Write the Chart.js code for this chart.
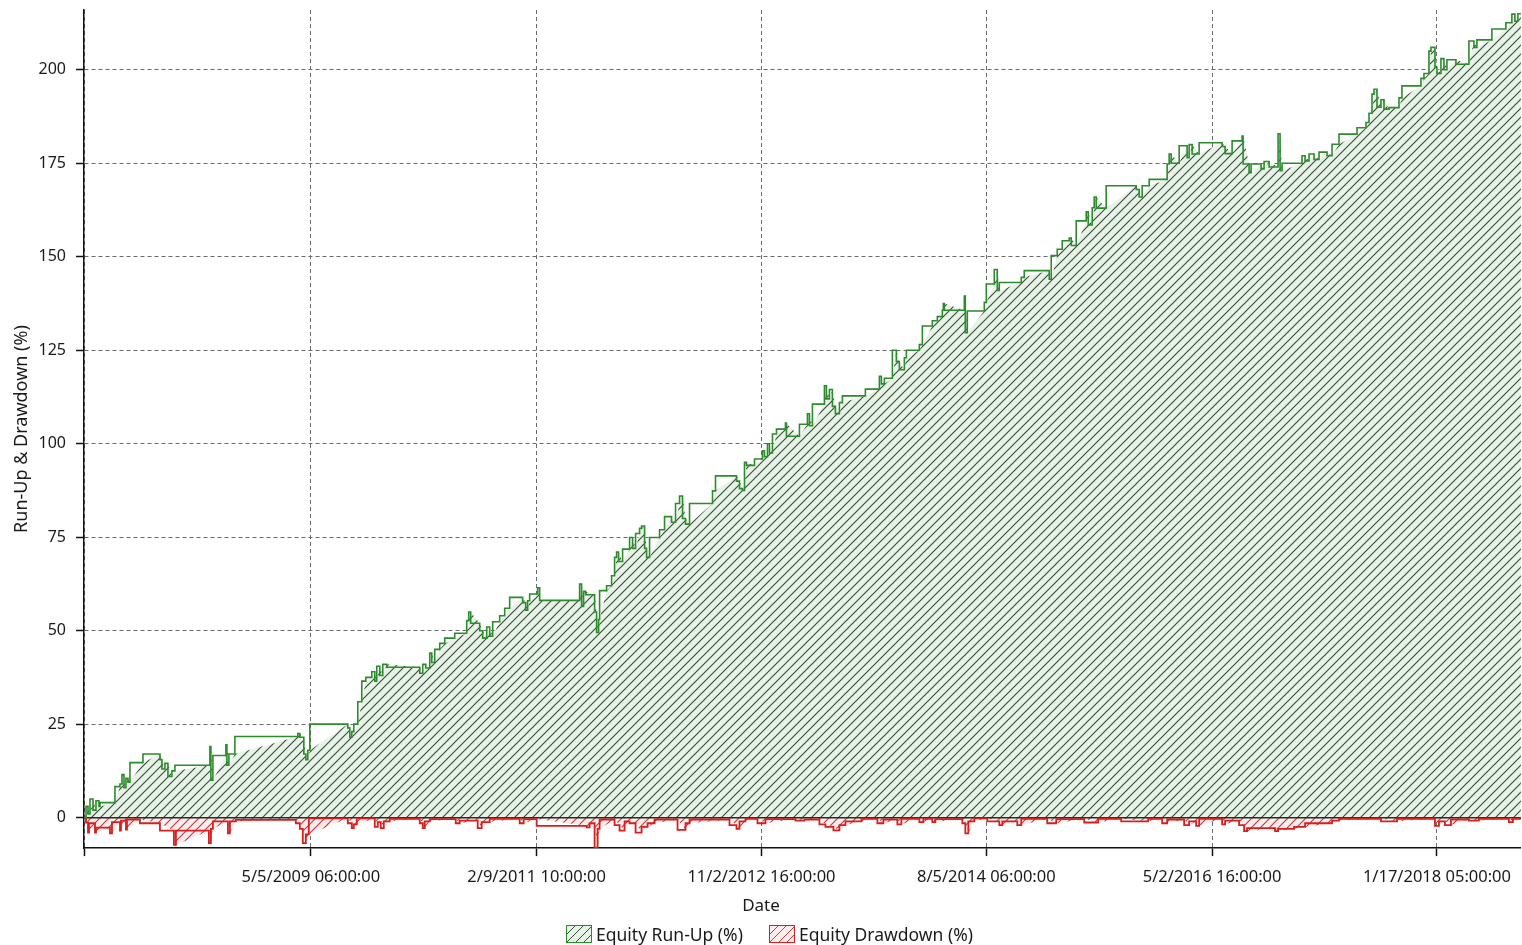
<!DOCTYPE html>
<html>
<head>
<meta charset="utf-8">
<script src="https://cdn.jsdelivr.net/npm/chart.js@4.4.1/dist/chart.umd.min.js"></script>
<style>
html, body { margin: 0; padding: 0; background: #fff; }
#wrap { position: relative; width: 1522px; height: 945px; }
#legend { position: absolute; left: 566px; top: 924px; display: flex; gap: 26px;
  font: 17.5px 'Noto Sans', 'DejaVu Sans', sans-serif; color: #1a1a1a; line-height: 20px; }
#legend .item { display: flex; align-items: center; white-space: nowrap; }
#legend .swatch { display: inline-block; width: 24px; height: 16px; margin-right: 4px; border: 1px solid; }
</style>
</head>
<body>
<div id="wrap">
  <canvas id="equityChart" width="1522" height="945"></canvas>
  <div id="legend"></div>
</div>
<script>
// x = bar number, one date label roughly every 450 bars
const runUpBar = [
  0,4,8,12,18,24,30,32,62,72,
  76,80,84,88,92,118,152,156,162,168,
  176,182,252,254,258,284,286,290,302,428,
  432,440,444,448,452,528,532,536,540,548,
  556,564,576,582,586,592,598,606,672,678,
  684,692,696,702,712,722,742,766,770,774,
  792,798,806,812,818,832,842,852,878,884,
  888,892,908,912,914,992,996,1000,1004,1022,1026,
  1030,1032,1046,1056,1062,1066,1070,1078,1092,1098,
  1104,1112,1116,1122,1126,1132,1152,1162,1176,1184,
  1192,1198,1204,1212,1258,1264,1306,1312,1318,1322,
  1326,1342,1358,1362,1368,1372,1378,1386,1404,1406,
  1432,1448,1452,1458,1482,1486,1492,1498,1504,1512,
  1518,1564,1592,1596,1602,1618,1626,1632,1642,1646,
  1672,1678,1698,1708,1718,1720,1722,1762,1764,1768,
  1802,1806,1822,1828,1832,1876,1882,1932,1936,1948,
  1958,1972,1976,1986,2006,2010,2018,2022,2026,2046,
  2106,2112,2118,2132,2168,2172,2176,2192,2208,2212,
  2218,2232,2278,2284,2298,2318,2320,2332,2336,2356,
  2362,2372,2390,2394,2398,2438,2444,2452,2462,2472,
  2488,2498,2512,2548,2566,2572,2578,2582,2588,2596,
  2602,2612,2632,2638,2676,2682,2692,2696,2704,2708,
  2716,2722,2728,2746,2772,2782,2788,2818,2846,2858,
  2864,2870,2876
];
const runUpPct = [
  0,0,3,1,5,2,4.5,3,4,8.3,
  9,11.5,8,10.5,9.5,14.7,17,15.5,13,14.5,
  11,12.5,14,19,10,16.6,19.5,14,17,21.7,
  22.5,21.5,17,15.5,18,25,24,21.5,23,25,
  31,36.5,37.5,39,36.5,40.5,38,41,40.2,38.6,
  41,40,44,41.5,45,46.6,48,49.3,52.7,55,
  52,50,48,51,48.5,52.4,54,56,58.9,57.5,
  55.5,58,59.8,61.5,58.1,58.1,62.5,56.5,60.5,59.6,55,
  49.5,53,60.7,62,64.7,69.6,71,68.5,71.8,74.9,
  72,76,77.4,78,72,69.6,74.9,77,80.5,79,
  84,86,80,78.5,84,87.4,91.4,90,88,87.5,
  95,94.2,95.9,98.1,96.5,100,97.5,102.6,103.9,105.5,
  102,105.2,108,104.8,110.6,115.5,112,114.5,110,108,
  111,112.8,114.6,118,116,117.5,125,122,119.8,123,
  125,126.5,131.5,132.9,134,135.7,137.5,135.7,139.5,129.7,
  135.5,137.8,142.7,146.6,141,143.1,144.5,146.3,144,150.3,
  152,154.3,155,153,159.6,162,158.5,163.1,166,163,
  169,168,166,169,170.7,174.8,177.5,175,179.7,176.5,
  180,177.5,180.5,179.5,177.6,181,182.3,174.8,172.5,174.8,
  173.5,175.5,174,182.9,173,175,177,175.6,177.5,176,
  178,177,180.1,182.8,184.5,185.9,188.4,193.5,194.8,190,
  192,189.5,189.9,192.5,195.7,197.7,199,205,206,200.7,
  199,203,200,202.7,201.5,207.7,206,208,210.9,212.6,
  214.9,213,215
];
const drawdownBar = [
  0,4,8,10,22,24,52,56,72,74,
  84,86,112,152,180,184,250,254,258,288,
  292,304,424,432,438,444,450,528,536,540,
  546,582,588,594,600,612,672,678,682,692,
  744,752,788,796,812,872,880,906,1006,1012,
  1022,1028,1032,1062,1072,1082,1092,1104,1116,1128,
  1142,1188,1204,1212,1292,1306,1312,1324,1348,1364,
  1424,1442,1472,1484,1500,1512,1524,1556,1588,1600,
  1628,1636,1672,1680,1698,1704,1758,1764,1770,1782,
  1808,1832,1838,1868,1876,1928,1946,2002,2030,2076,
  2130,2158,2168,2202,2212,2226,2232,2278,2284,2312,
  2322,2328,2384,2390,2422,2444,2498,2512,2596,2628,
  2704,2712,2724,2736,2772,2792,2852,2860,2876
];
const drawdownPct = [
  0,0,-1.3,-4,-1.5,-4,-2.7,-4.2,-1.2,-3.5,
  -0.8,-3.2,-0.5,-1.5,-3.5,-7.3,-3.5,-6.8,-3,-1,
  -4.2,-1,-0.6,-1.5,-3,-6.8,-4.5,-0.2,-1.5,-2.8,
  -1.8,-0.2,-2.5,-1.2,-2.8,-1,-0.3,-1.5,-2.8,-1,
  -0.4,-1.5,-0.8,-2.8,-1.2,-0.3,-1.5,-0.4,-2.2,-2.6,
  -1.5,-8,-3,-0.5,-2,-3.5,-1,-1.5,-4,-2.5,
  -1.5,-0.5,-3.3,-1.5,-0.5,-2,-3,-1,-0.3,-1.5,
  -0.4,-0.8,-0.5,-1.8,-2.5,-3.4,-2,-1,-0.3,-1.5,
  -0.5,-1.8,-0.3,-1.2,-0.3,-1.2,-0.4,-1.5,-4.2,-1,
  -0.2,-1,-2,-1,-2,-0.3,-1.5,-0.4,-1.3,-0.3,
  -1,-0.3,-1.5,-0.5,-2,-1,-2.2,-0.3,-1.8,-0.8,
  -2,-3.6,-2.8,-3.6,-3,-2.5,-1.5,-0.8,-0.3,-1,
  -0.3,-2.2,-1,-2,-0.5,-0.8,-0.3,-1.2,-0.3
];
const tickBars = [0, 454, 906, 1356, 1806, 2258, 2708];
const tickLabels = ['', '5/5/2009 06:00:00', '2/9/2011 10:00:00', '11/2/2012 16:00:00',
  '8/5/2014 06:00:00', '5/2/2016 16:00:00', '1/17/2018 05:00:00'];
const lastBar = 2876;

const fontFamily = "'Noto Sans', 'DejaVu Sans', sans-serif";
const textColor = '#1a1a1a';
const gridColor = '#6a6a6a';
const runUpColor = '#2a8c2a';
const drawdownColor = '#d81e1e';
const runUpHatch = { bg: '#e8f3e8', line: '#3e4e3e' };
const drawdownHatch = { bg: '#fbeded', line: '#c83c3c' };

function makeHatch(bg, line) {
  const c = document.createElement('canvas');
  c.width = 9; c.height = 9;
  const g = c.getContext('2d');
  g.fillStyle = bg;
  g.fillRect(0, 0, 9, 9);
  g.strokeStyle = line;
  g.lineWidth = 1.2;
  g.beginPath();
  g.moveTo(-1, 10); g.lineTo(10, -1);
  g.moveTo(-1, 1); g.lineTo(1, -1);
  g.moveTo(8, 10); g.lineTo(10, 8);
  g.stroke();
  return g.createPattern(c, 'repeat');
}

const runUp = runUpBar.map((b, i) => ({ x: b, y: runUpPct[i] }));
const drawdown = drawdownBar.map((b, i) => ({ x: b, y: drawdownPct[i] }));

const chart = new Chart(document.getElementById('equityChart'), {
  type: 'line',
  data: {
    datasets: [
      { label: 'Equity Run-Up (%)', data: runUp, stepped: 'after', borderColor: runUpColor,
        borderWidth: 1.6, pointRadius: 0, fill: false, order: 1 },
      { label: 'Equity Drawdown (%)', data: drawdown, stepped: 'after', borderColor: drawdownColor,
        borderWidth: 1.8, pointRadius: 0, fill: false, order: 1 },
      { label: 'zero', data: [{ x: 0, y: 0 }, { x: lastBar, y: 0 }], borderColor: '#2a2a2a',
        borderWidth: 1.5, pointRadius: 0, fill: false, order: 2 },
      // the hatched areas join the points straight, not in steps
      { label: 'run-up area', data: runUp, borderWidth: 0, pointRadius: 0,
        backgroundColor: makeHatch(runUpHatch.bg, runUpHatch.line), fill: 'origin', order: 3 },
      { label: 'drawdown area', data: drawdown, borderWidth: 0, pointRadius: 0,
        backgroundColor: makeHatch(drawdownHatch.bg, drawdownHatch.line), fill: 'origin', order: 3 }
    ]
  },
  options: {
    responsive: false,
    animation: false,
    layout: { padding: { top: 10, right: 0, left: 0, bottom: 26.5 } },
    plugins: {
      legend: { display: false },
      tooltip: { enabled: false },
      title: {
        display: true, text: 'Date', position: 'bottom', color: textColor,
        font: { family: fontFamily, size: 17, weight: 'normal' },
        padding: { top: 4, bottom: 2 }
      }
    },
    scales: {
      x: {
        type: 'linear', min: 0, max: lastBar,
        afterBuildTicks: s => { s.ticks = tickBars.map(v => ({ value: v })); },
        afterFit: s => { s.height = 44; },
        ticks: {
          autoSkip: false, maxRotation: 0, padding: 11, color: textColor,
          font: { family: fontFamily, size: 16.5 },
          callback: v => tickLabels[tickBars.indexOf(v)]
        },
        grid: { color: gridColor, lineWidth: 1, tickLength: 8, tickColor: '#111', tickWidth: 1.5 },
        border: { display: true, color: '#111', width: 1.5, dash: [4, 3] }
      },
      y: {
        min: -8.15, max: 216,
        afterFit: s => { s.width = 84; s.paddingTop = 0; s.paddingBottom = 0; },
        ticks: {
          stepSize: 25, includeBounds: false, padding: 10, color: textColor,
          font: { family: fontFamily, size: 16 }
        },
        grid: { color: gridColor, lineWidth: 1, tickLength: 8, tickColor: '#111', tickWidth: 1.5 },
        border: { display: true, color: '#111', width: 1.5, dash: [4, 3] },
        title: {
          display: true, text: 'Run-Up & Drawdown (%)', color: textColor,
          font: { family: fontFamily, size: 18 }, padding: { top: 11, bottom: 0 }
        }
      }
    }
  }
});

// legend built from the two series, with hatched swatches
const legendSeries = [
  { label: chart.data.datasets[0].label, color: runUpColor, hatch: runUpHatch },
  { label: chart.data.datasets[1].label, color: drawdownColor, hatch: drawdownHatch }
];
const legendEl = document.getElementById('legend');
legendSeries.forEach(s => {
  const item = document.createElement('span');
  item.className = 'item';
  const sw = document.createElement('i');
  sw.className = 'swatch';
  sw.style.borderColor = s.color;
  sw.style.background = `repeating-linear-gradient(135deg, ${s.hatch.bg} 0 5px, ${s.hatch.line} 5px 6px)`;
  item.appendChild(sw);
  item.appendChild(document.createTextNode(s.label));
  legendEl.appendChild(item);
});
</script>
</body>
</html>
